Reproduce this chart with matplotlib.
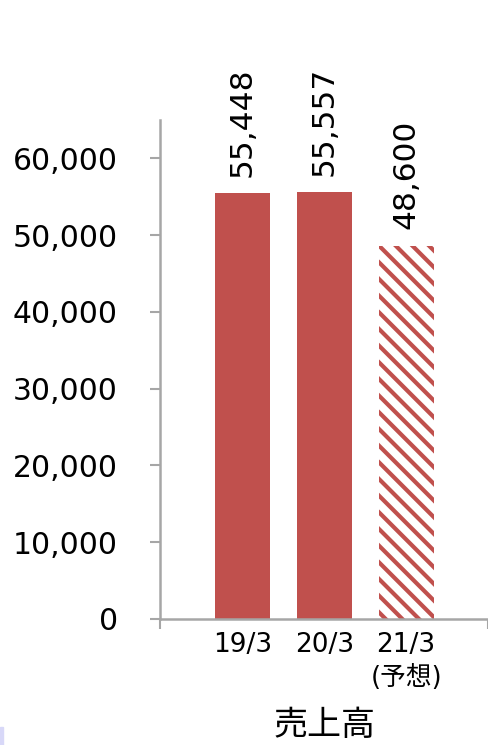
import matplotlib
matplotlib.use('Agg')
import matplotlib.pyplot as plt
from matplotlib.patches import Rectangle

plt.rcParams['font.family'] = ['DejaVu Sans', 'Noto Sans CJK JP']
plt.rcParams['hatch.linewidth'] = 3.0

# data
categories = ['19/3', '20/3', '21/3']
sales = [55448, 55557, 48600]
forecast = [False, False, True]
value_labels = ['55,448', '55,557', '48,600']
yticks = [0, 10000, 20000, 30000, 40000, 50000, 60000]
ytick_labels = ['0', '10,000', '20,000', '30,000', '40,000', '50,000', '60,000']
title = '売上高'

bar_color = '#C0504D'
axis_color = '#A6A6A6'

fig = plt.figure(figsize=(4.88, 7.45), dpi=100)
ax = fig.add_axes([160 / 488, 1 - 619 / 745, 1 - 160 / 488, (619 - 120) / 745])

x = list(range(len(categories)))
for xi, v, f in zip(x, sales, forecast):
    if f:
        ax.bar(xi, v, width=0.67, color='white', edgecolor=bar_color,
               hatch='\\\\', linewidth=0)
    else:
        ax.bar(xi, v, width=0.67, color=bar_color, linewidth=0)

for xi, v, lab in zip(x, sales, value_labels):
    ax.annotate(lab, (xi, v), xytext=(0, 12), textcoords='offset points',
                rotation=90, ha='center', va='bottom', fontsize=22.5)

ax.set_xlim(-1.006, 3.0)
ax.set_ylim(0, 65000)

ax.set_yticks(yticks)
ax.set_yticklabels(ytick_labels, fontsize=21.5)
ax.tick_params(axis='y', direction='out', length=7.2, width=1.5,
               color=axis_color, pad=23)

# tick marks only at axis ends, category labels as minor ticks
ax.set_xticks([-1.006, 3.0])
ax.set_xticklabels(['', ''])
ax.tick_params(axis='x', which='major', direction='out', length=7.5,
               width=1.5, color=axis_color)
ax.set_xticks(x, minor=True)
ax.set_xticklabels(categories, minor=True, fontsize=19)
ax.tick_params(axis='x', which='minor', length=0, pad=9)

ax.text(2, -0.092, '(予想)', transform=ax.get_xaxis_transform(),
        ha='center', va='top', fontsize=18.5,
        family=['DejaVu Sans', 'Noto Sans CJK JP'])

ax.text(1, -0.178, title, transform=ax.get_xaxis_transform(),
        ha='center', va='top', fontsize=24.5,
        family=['Noto Sans CJK JP', 'DejaVu Sans'])

for s in ['top', 'right']:
    ax.spines[s].set_visible(False)
for s in ['left', 'bottom']:
    ax.spines[s].set_color(axis_color)
    ax.spines[s].set_linewidth(1.8)

# small mark at lower left corner
fig.patches.append(Rectangle((0, 0), 3 / 488, 18 / 745, transform=fig.transFigure,
                             color='#D8D8F8', figure=fig))

fig.savefig('out.png', dpi=100)
